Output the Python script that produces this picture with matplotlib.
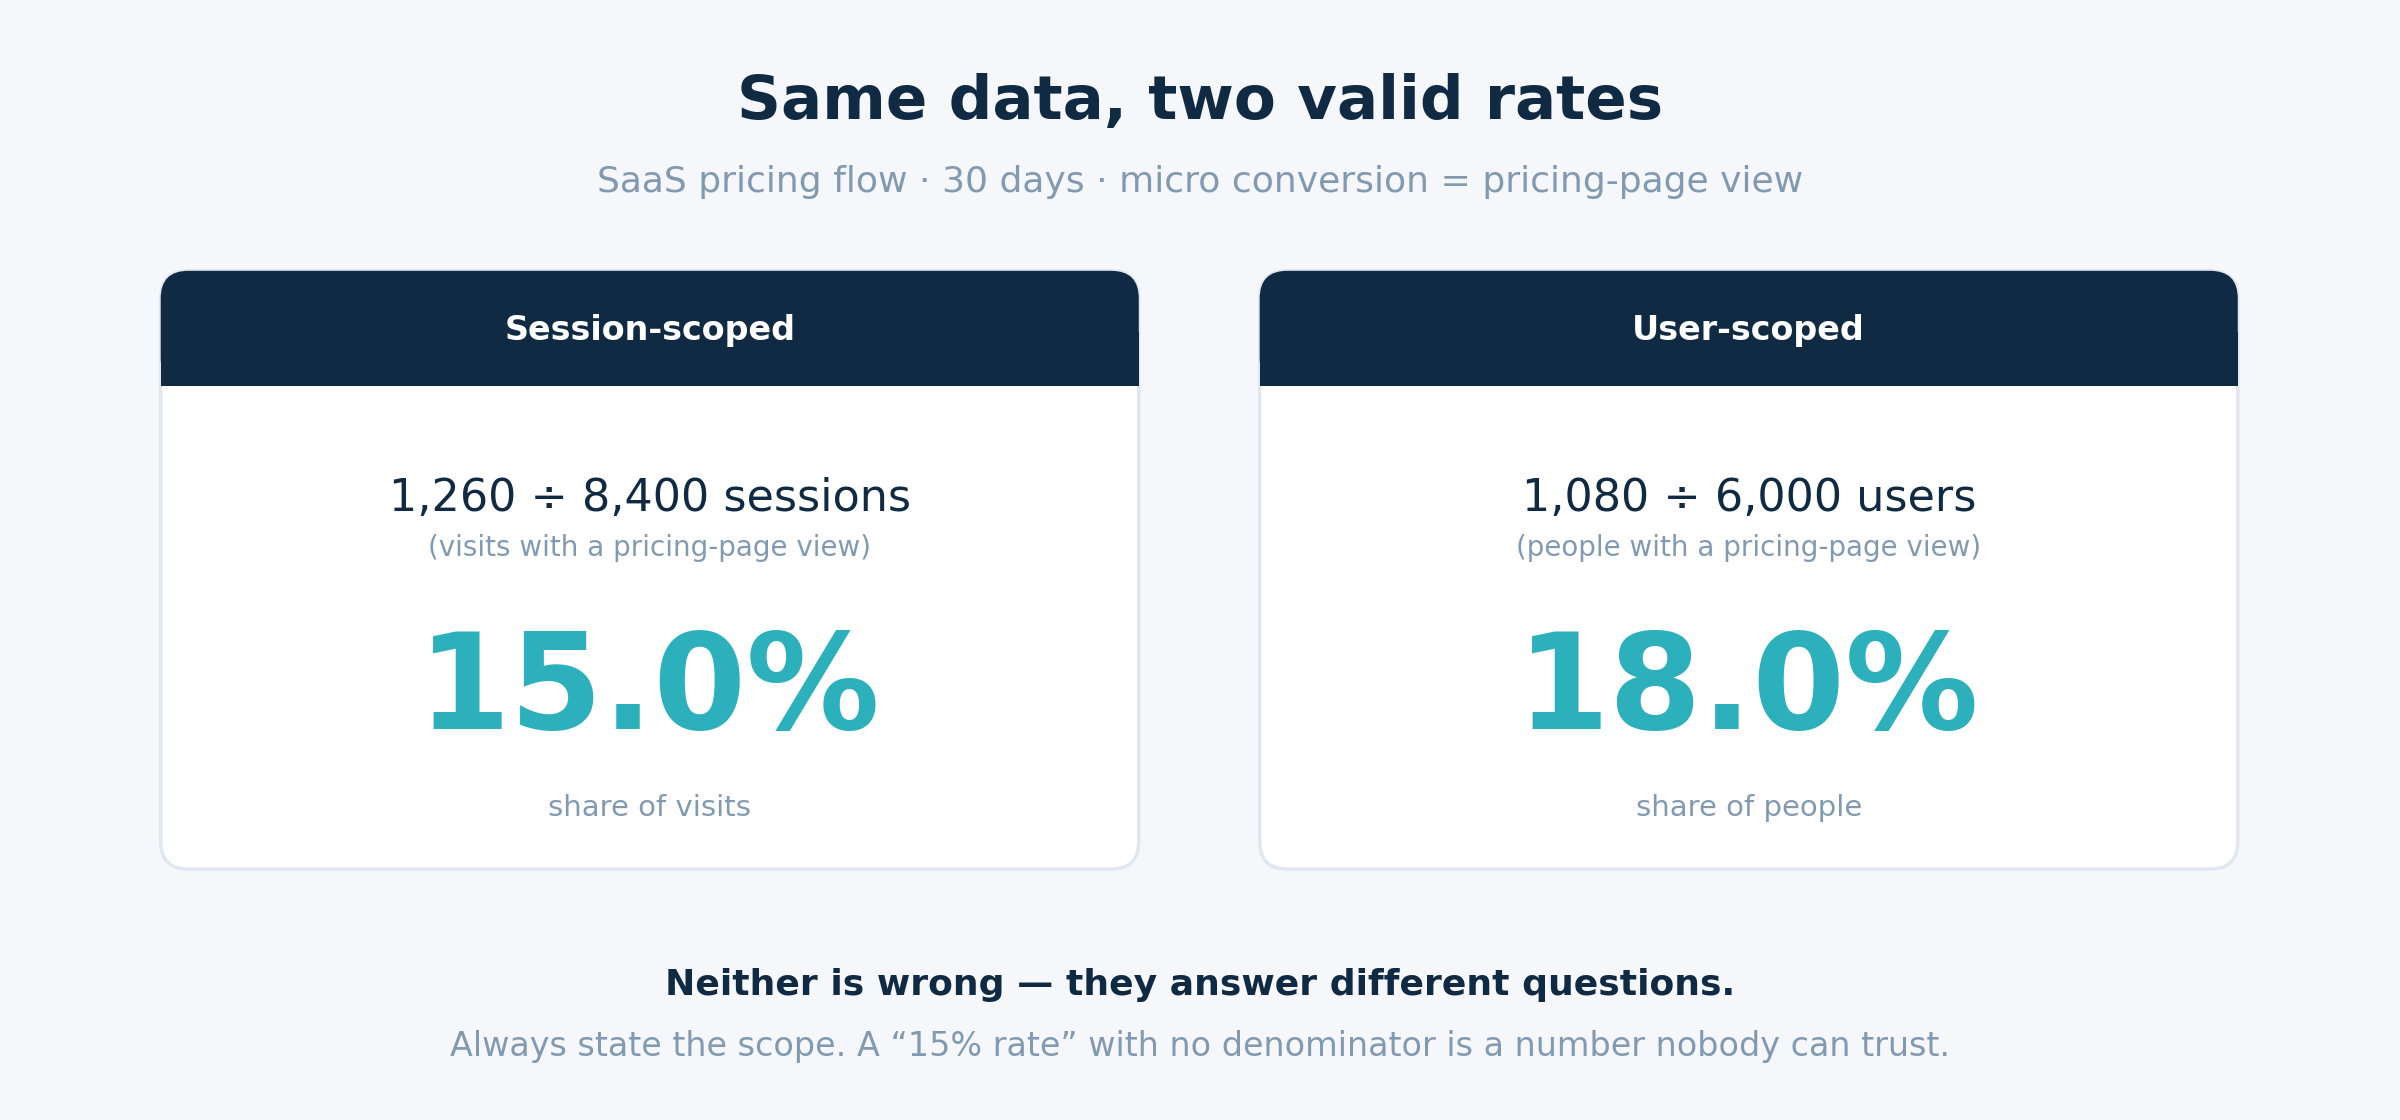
import matplotlib.pyplot as plt
from matplotlib.patches import FancyBboxPatch, Rectangle

NAVY = "#102a43"
GRAY = "#829ab1"
TEAL = "#2cb1bc"
BG = "#f5f7fa"
EDGE = "#e1e7f0"

title = "Same data, two valid rates"
subtitle = "SaaS pricing flow · 30 days · micro conversion = pricing-page view"
card_titles = ["Session-scoped", "User-scoped"]
numerators = [1260, 1080]
denominators = [8400, 6000]
units = ["sessions", "users"]
notes = ["(visits with a pricing-page view)", "(people with a pricing-page view)"]
captions = ["share of visits", "share of people"]
footer_bold = "Neither is wrong \u2014 they answer different questions."
footer = "Always state the scope. A \u201c15% rate\u201d with no denominator is a number nobody can trust."

W, H = 1568, 732
fig = plt.figure(figsize=(24, 11.2), dpi=100, facecolor=BG)
ax = fig.add_axes([0, 0, 1, 1])
ax.set_xlim(0, W)
ax.set_ylim(H, 0)
ax.axis("off")

ax.text(W / 2, 67, title, ha="center", va="center", fontsize=44, fontweight="bold", color=NAVY)
ax.text(W / 2, 119, subtitle, ha="center", va="center", fontsize=26, color=GRAY)

card_x = [105, 823]
cw, top, ch, hh = 639, 177, 391, 75
for i, x0 in enumerate(card_x):
    ax.add_patch(FancyBboxPatch((x0, top), cw, ch, boxstyle="round,pad=0,rounding_size=18",
                                fc="white", ec=EDGE, lw=2.5, zorder=1))
    ax.add_patch(FancyBboxPatch((x0, top), cw, hh, boxstyle="round,pad=0,rounding_size=18",
                                fc=NAVY, ec="none", zorder=2))
    ax.add_patch(Rectangle((x0, top + 40), cw, hh - 40, fc=NAVY, ec="none", zorder=2))
    cx = x0 + cw / 2
    ax.text(cx, 216, card_titles[i], ha="center", va="center", fontsize=24,
            fontweight="bold", color="white", zorder=3)
    ax.text(cx, 326, f"{numerators[i]:,} \u00f7 {denominators[i]:,} {units[i]}",
            ha="center", va="center", fontsize=32, color=NAVY, zorder=3)
    ax.text(cx, 358, notes[i], ha="center", va="center", fontsize=20, color=GRAY, zorder=3)
    rate = numerators[i] / denominators[i] * 100
    ax.text(cx, 452, f"{rate:.1f}%", ha="center", va="center", fontsize=96,
            fontweight="bold", color=TEAL, zorder=3)
    ax.text(cx, 528, captions[i], ha="center", va="center", fontsize=21, color=GRAY, zorder=3)

ax.text(W / 2, 644, footer_bold, ha="center", va="center", fontsize=26, fontweight="bold", color=NAVY)
ax.text(W / 2, 684, footer, ha="center", va="center", fontsize=24, color=GRAY)

fig.savefig("out.png", dpi=100, facecolor=BG)
